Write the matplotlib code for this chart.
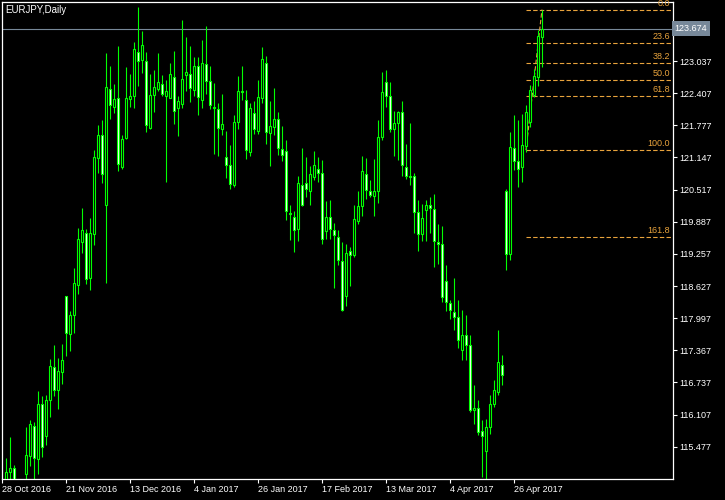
import numpy as np
import matplotlib.pyplot as plt

symbol = "EURJPY,Daily"

# daily OHLC, first bar = 31 Oct 2016
opens = [114.73, 114.98, 115.06, 114.70, 114.40, 114.94, 115.29, 115.89, 115.23, 116.32,
         115.68, 116.39, 117.04, 116.58, 116.94, 118.43, 117.68, 118.05, 118.64, 119.49,
         119.66, 118.78, 119.64, 121.13, 121.58, 120.21, 122.48, 122.13, 122.31, 120.95,
         121.52, 122.29, 122.36, 123.21, 123.05, 123.03, 121.73, 122.38, 122.48, 122.58,
         122.35, 122.32, 122.72, 122.11, 122.19, 122.76, 122.78, 122.46, 122.93, 122.27,
         122.97, 122.64, 122.11, 122.09, 121.70, 121.15, 120.99, 120.60, 121.84, 122.44,
         122.27, 121.25, 122.01, 121.66, 122.31, 122.99, 121.62, 121.74, 121.90, 121.31,
         121.27, 120.05, 119.98, 119.74, 120.60, 120.64, 120.48, 120.76, 120.93, 120.84,
         119.70, 119.97, 119.72, 119.58, 119.11, 118.43, 119.31, 119.23, 119.90, 120.19,
         120.82, 120.48, 120.39, 120.48, 121.54, 122.62, 122.35, 121.70, 121.82, 122.03,
         120.95, 120.78, 120.78, 120.07, 119.64, 120.11, 120.21, 120.13, 119.49, 119.45,
         118.72, 118.29, 118.11, 118.02, 117.38, 117.67, 117.47, 116.20, 116.23, 115.79,
         115.40, 115.86, 116.31, 116.55, 117.08, 120.49, 119.25, 121.33, 121.07, 120.95,
         121.37, 121.85, 122.37, 122.72, 123.51]
highs = [115.26, 115.67, 115.12, 114.80, 114.80, 115.87, 116.00, 115.97, 116.57, 116.47,
         116.49, 117.20, 117.47, 117.22, 117.49, 118.44, 118.14, 118.98, 119.77, 120.16,
         119.75, 119.96, 121.29, 121.78, 121.88, 123.19, 122.94, 122.59, 123.33, 121.59,
         122.91, 122.78, 123.41, 124.09, 123.62, 123.21, 122.78, 122.86, 123.19, 122.76,
         122.66, 122.99, 123.23, 122.36, 123.84, 123.51, 123.33, 123.12, 123.12, 123.45,
         123.72, 122.94, 122.60, 122.21, 122.40, 121.66, 121.39, 121.97, 122.74, 122.93,
         122.46, 122.21, 122.25, 122.66, 123.31, 123.13, 122.25, 122.51, 122.04, 121.76,
         121.49, 120.21, 120.09, 120.78, 121.33, 121.15, 120.97, 121.27, 121.15, 121.09,
         120.29, 120.31, 119.86, 119.72, 119.49, 119.45, 119.39, 120.21, 120.48, 121.17,
         121.13, 120.70, 121.11, 121.88, 122.82, 122.87, 122.62, 122.06, 122.06, 122.25,
         121.42, 121.82, 120.84, 120.31, 120.24, 120.31, 120.37, 120.43, 119.84, 119.80,
         119.03, 118.35, 118.78, 118.36, 118.16, 118.06, 117.67, 116.69, 116.40, 116.00,
         116.02, 116.49, 116.79, 117.77, 117.28, 120.53, 121.65, 121.98, 121.88, 122.00,
         122.18, 122.57, 122.89, 123.64, 124.04]
lows = [114.63, 114.75, 114.63, 114.20, 113.90, 114.50, 115.09, 114.79, 114.94, 115.28,
        115.51, 116.05, 116.48, 116.22, 116.71, 117.26, 117.36, 117.70, 118.48, 119.27,
        118.67, 118.54, 119.43, 120.84, 120.65, 118.68, 121.91, 122.01, 120.89, 120.93,
        121.51, 122.13, 122.11, 122.55, 122.81, 121.65, 121.70, 122.04, 122.44, 122.36,
        120.67, 122.31, 121.80, 121.57, 122.11, 122.44, 122.24, 122.35, 121.98, 122.11,
        122.40, 122.09, 121.22, 121.17, 121.58, 120.74, 120.52, 120.56, 121.70, 122.27,
        121.11, 121.18, 121.60, 121.60, 122.21, 121.42, 120.98, 121.58, 121.19, 121.07,
        119.93, 119.52, 119.30, 119.50, 120.20, 120.37, 120.21, 120.71, 120.66, 119.46,
        119.55, 119.54, 118.58, 119.03, 118.14, 118.23, 118.63, 119.19, 119.85, 119.99,
        120.33, 120.37, 119.99, 120.26, 121.48, 122.13, 121.64, 121.18, 121.10, 120.79,
        120.72, 120.60, 119.66, 119.31, 119.50, 119.51, 119.67, 118.99, 119.06, 118.32,
        118.13, 117.98, 117.77, 117.41, 117.18, 117.18, 116.16, 115.93, 115.70, 114.89,
        114.73, 115.73, 116.25, 116.49, 116.69, 118.94, 119.14, 120.90, 120.57, 120.67,
        121.25, 121.75, 122.34, 122.55, 122.91]
closes = [114.99, 115.06, 114.75, 114.40, 114.60, 115.32, 115.92, 115.25, 116.32, 115.47,
          116.40, 117.05, 116.58, 116.96, 117.17, 117.71, 118.06, 118.68, 119.55, 119.72,
          118.76, 119.66, 121.15, 121.58, 120.82, 122.53, 122.17, 122.29, 121.01, 121.50,
          122.31, 122.36, 123.27, 123.03, 123.36, 121.78, 122.38, 122.52, 122.62, 122.40,
          122.44, 122.78, 122.06, 122.25, 122.68, 122.82, 122.50, 122.93, 122.33, 122.99,
          122.64, 122.17, 122.13, 121.72, 121.80, 120.99, 120.62, 121.84, 122.44, 122.42,
          121.29, 122.11, 121.70, 122.33, 123.07, 121.64, 121.76, 121.91, 121.33, 121.19,
          120.09, 120.03, 119.72, 120.64, 120.21, 120.52, 120.82, 120.99, 120.84, 119.54,
          119.97, 119.74, 119.62, 119.13, 118.15, 119.27, 119.23, 119.94, 120.19, 120.88,
          120.50, 120.41, 120.48, 121.54, 122.42, 122.35, 121.70, 121.82, 122.03, 120.99,
          120.78, 120.77, 120.07, 119.64, 119.96, 120.21, 120.15, 119.50, 119.45, 118.41,
          118.31, 118.15, 118.02, 117.57, 117.67, 117.47, 116.20, 116.24, 115.76, 115.69,
          115.86, 116.31, 116.59, 117.14, 116.89, 119.25, 121.35, 121.07, 120.93, 121.39,
          122.04, 122.47, 122.74, 123.53, 123.674]

date_labels = ["28 Oct 2016", "21 Nov 2016", "13 Dec 2016", "4 Jan 2017", "26 Jan 2017",
               "17 Feb 2017", "13 Mar 2017", "4 Apr 2017", "26 Apr 2017"]
price_ticks = [123.037, 122.407, 121.777, 121.147, 120.517, 119.887, 119.257,
               118.627, 117.997, 117.367, 116.737, 116.107, 115.477]
current_price = 123.674

fib_levels = [0.0, 23.6, 38.2, 50.0, 61.8, 100.0, 161.8]
fib_high = 124.045
fib_low = 121.29
fib_start = 130

green = '#00FF00'
fib_color = '#E8A33C'
line_gray = '#778899'

o = np.array(opens)
c = np.array(closes)
idx = np.arange(len(opens))
bull = c >= o

fig = plt.figure(figsize=(7.25, 5), dpi=100, facecolor='black')
ax = fig.add_axes([2.3 / 725, 21 / 500, 670.4 / 725, 476.7 / 500], facecolor='black')

# candles
ax.vlines(idx, lows, highs, colors=green, linewidth=0.8, zorder=2)
ax.bar(idx, np.abs(c - o), bottom=np.minimum(o, c), width=0.5,
       color=np.where(bull, 'black', 'white'), edgecolor=green, linewidth=0.8, zorder=3)

# current price line
ax.axhline(current_price, color=line_gray, linewidth=0.8, zorder=1)

# fibonacci retracement
rng = fib_high - fib_low
x_end = 166.7
for lvl in fib_levels:
    p = fib_high - lvl / 100 * rng
    ax.hlines(p, fib_start, x_end, colors=fib_color, linewidth=0.8,
              linestyles=(0, (4, 2)), zorder=1)
    ax.annotate(f"{lvl:.1f}", xy=(0.996, p), xycoords=ax.get_yaxis_transform(),
                xytext=(0, 1.5), textcoords='offset points', ha='right', va='bottom',
                color=fib_color, fontsize=6.5, family='Liberation Sans', annotation_clip=False)
ax.plot([fib_start, len(opens) - 1], [fib_low, fib_high], color=fib_color,
        linewidth=0.8, linestyle=(0, (4, 2)), zorder=1)

ax.set_xlim(-1, x_end)
ax.set_ylim(114.844, 124.188)

for s in ax.spines.values():
    s.set_color('white')
    s.set_linewidth(0.9)

ax.set_xticks([-1 + 16 * k for k in range(len(date_labels))])
ax.set_xticklabels(date_labels, ha='left', family='Liberation Sans')
ax.tick_params(axis='x', colors='white', length=3, width=0.8, pad=1.5, labelsize=6.5)

ax.yaxis.tick_right()
ax.set_yticks(price_ticks)
ax.set_yticklabels([f"{p:.3f}" for p in price_ticks], family='Liberation Sans')
ax.tick_params(axis='y', colors='white', length=3, width=0.8, pad=2, labelsize=6.5)

ax.text(1.003, current_price, f"{current_price:.3f}", transform=ax.get_yaxis_transform(),
        ha='left', va='center', color='white', fontsize=6.5, family='Liberation Sans',
        bbox=dict(facecolor=line_gray, edgecolor='none', pad=1.8))

fig.text(5 / 725, 1 - 10 / 500, symbol, color='white', fontsize=7,
         family='Liberation Sans', ha='left', va='center')

fig.savefig('out.png', dpi=100, facecolor='black')
